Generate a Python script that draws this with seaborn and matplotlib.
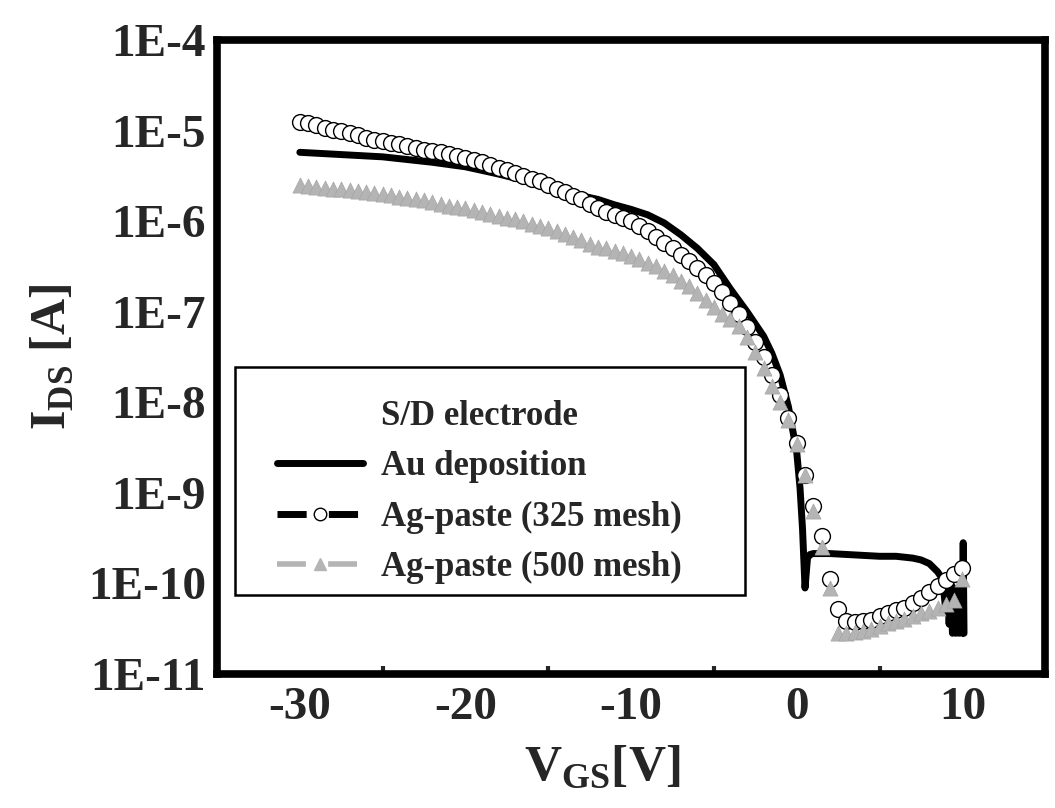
import numpy as np
import matplotlib
matplotlib.use("Agg")
import matplotlib.pyplot as plt
import seaborn as sns
from matplotlib.lines import Line2D
from matplotlib.patches import Rectangle
from matplotlib.ticker import FixedLocator, LogLocator, NullFormatter

# ============================================
# Data (log10 of I_DS)
# ============================================

# Au deposition (solid black line)
au_vgs = [-30, -28, -26, -25, -24, -22, -20, -18, -16, -15, -14, -13, -12, -11,
          -10, -9, -8, -7, -6, -5, -4, -3, -2, -1.5, -1, -0.5, 0, 0.2, 0.35,
          0.5, 0.65, 0.8, 1, 2, 3, 4, 5, 6, 7, 7.5, 8, 8.5, 8.8, 9.0, 9.1,
          9.2, 9.3, 9.4, 9.5, 9.6, 9.7, 9.8, 9.9, 10.0, 10.05, 10.1]
au_log = [-5.24, -5.26, -5.28, -5.29, -5.31, -5.35, -5.40, -5.48, -5.57, -5.63,
          -5.67, -5.72, -5.76, -5.82, -5.87, -5.93, -6.02, -6.15, -6.30, -6.48,
          -6.75, -7.00, -7.27, -7.46, -7.70, -8.05, -8.55, -8.95, -9.40,
          -10.05, -9.72, -9.68, -9.67, -9.67, -9.68, -9.69, -9.70, -9.70, -9.72,
          -9.74, -9.78, -9.87, -9.95, -10.30, -9.95, -10.45, -10.00, -10.55,
          -10.05, -10.55, -10.10, -10.55, -10.00, -10.55, -9.55, -10.55]

# Ag-paste 325 mesh (open circles) and 500 mesh (grey triangles), 0.5 V steps
mesh_vgs = np.arange(-30, 10.5, 0.5)
ag325_log = [-4.90, -4.92, -4.94, -4.97, -4.99, -5.01, -5.03, -5.05, -5.08, -5.10,
             -5.12, -5.14, -5.15, -5.17, -5.19, -5.21, -5.23, -5.24, -5.26, -5.28,
             -5.30, -5.32, -5.35, -5.38, -5.41, -5.44, -5.47, -5.50, -5.53, -5.56,
             -5.60, -5.64, -5.68, -5.72, -5.76, -5.81, -5.86, -5.90, -5.93, -5.97,
             -6.00, -6.05, -6.11, -6.17, -6.24, -6.30, -6.37, -6.44, -6.52, -6.60,
             -6.68, -6.78, -6.90, -7.03, -7.17, -7.33, -7.50, -7.70, -7.92, -8.17,
             -8.45, -8.80, -9.15, -9.48, -9.95, -10.28, -10.42, -10.43, -10.42, -10.40,
             -10.36, -10.33, -10.29, -10.27, -10.22, -10.16, -10.09, -10.03, -9.96, -9.90,
             -9.83]
ag500_log = [-5.60, -5.61, -5.62, -5.63, -5.64, -5.65, -5.66, -5.67, -5.68, -5.69,
             -5.70, -5.71, -5.73, -5.74, -5.76, -5.77, -5.79, -5.81, -5.83, -5.84,
             -5.86, -5.88, -5.90, -5.92, -5.94, -5.96, -5.98, -6.00, -6.03, -6.05,
             -6.08, -6.11, -6.14, -6.18, -6.21, -6.25, -6.28, -6.30, -6.33, -6.35,
             -6.38, -6.42, -6.46, -6.50, -6.55, -6.60, -6.66, -6.72, -6.79, -6.87,
             -6.95, -7.02, -7.08, -7.16, -7.28, -7.44, -7.62, -7.82, -8.00, -8.20,
             -8.46, -8.80, -9.20, -9.60, -10.05, -10.55, -10.55, -10.54, -10.52, -10.50,
             -10.47, -10.44, -10.42, -10.39, -10.36, -10.33, -10.30, -10.27, -10.23, -10.18,
             -9.95]

series_labels = ["Au deposition", "Ag-paste (325 mesh)", "Ag-paste (500 mesh)"]
legend_title = "S/D electrode"

x_major = [-30, -20, -10, 0, 10]
x_minor = [-25, -15, -5, 5]
y_exponents = [-11, -10, -9, -8, -7, -6, -5, -4]
y_tick_labels = ["1E-11", "1E-10", "1E-9", "1E-8", "1E-7", "1E-6", "1E-5", "1E-4"]

# ============================================
# Style
# ============================================

sns.set_style("white")
plt.rcParams["font.family"] = ["Liberation Serif", "DejaVu Serif"]
plt.rcParams["font.weight"] = "bold"
plt.rcParams["mathtext.fontset"] = "custom"
plt.rcParams["mathtext.rm"] = "Liberation Serif"
plt.rcParams["mathtext.bf"] = "Liberation Serif:bold"

fig = plt.figure(figsize=(10.55, 8.08), dpi=100)
ax = fig.add_axes([0.2057, 0.1658, 0.785, 0.7847])

grey = "#b4b4b4"

# ============================================
# Plot
# ============================================

sns.lineplot(x=au_vgs, y=10.0 ** np.array(au_log), color="black", lw=5,
             estimator=None, sort=False, ax=ax, zorder=2)
sns.scatterplot(x=mesh_vgs, y=10.0 ** np.array(ag325_log), marker="o", s=130,
                facecolor="white", edgecolor="black", linewidth=1.0, ax=ax, zorder=3)
sns.scatterplot(x=mesh_vgs, y=10.0 ** np.array(ag500_log), marker="^", s=120,
                color=grey, edgecolor="#a0a0a0", linewidth=0.4, ax=ax, zorder=4)

ax.set_yscale("log")
ax.set_xlim(-35, 15)
ax.set_ylim(1e-11, 1e-4)

ax.xaxis.set_major_locator(FixedLocator(x_major))
ax.xaxis.set_minor_locator(FixedLocator(x_minor))
ax.set_xticklabels([str(v) for v in x_major])
ax.yaxis.set_major_locator(FixedLocator([10.0 ** e for e in y_exponents]))
ax.set_yticklabels(y_tick_labels)
ax.yaxis.set_minor_locator(LogLocator(base=10, subs=np.arange(2, 10)))
ax.yaxis.set_minor_formatter(NullFormatter())

ax.tick_params(axis="both", which="major", direction="in", labelsize=34,
               top=False, right=False)
ax.tick_params(axis="x", which="major", length=11, width=3.5, pad=9)
ax.tick_params(axis="x", which="minor", direction="in", length=6, width=3,
               top=False, bottom=True)
ax.tick_params(axis="y", which="major", length=7, width=3, pad=8)
ax.tick_params(axis="y", which="minor", direction="in", length=5, width=2.5,
               right=False)
for lab in ax.get_xticklabels() + ax.get_yticklabels():
    lab.set_fontweight("bold")

for side in ["left", "right", "top", "bottom"]:
    ax.spines[side].set_visible(True)
    ax.spines[side].set_linewidth(5.5)
    ax.spines[side].set_color("black")

ax.set_xlabel(r"$\mathbf{V}_{\mathbf{GS}}$[V]", fontsize=37, fontweight="bold")
ax.set_ylabel(r"$\mathbf{I}_{\mathbf{DS}}$ [A]", fontsize=36, fontweight="bold")
ax.xaxis.set_label_coords(0.465, -0.11)
ax.yaxis.set_label_coords(-0.17, 0.5)

# Legend: entries without frame, frame drawn as a separate box
handles = [
    Line2D([], [], color="black", lw=5),
    Line2D([], [], color="black", lw=5, ls=(0, (4.2, 3.2)), marker="o",
           ms=9, mfc="white", mec="black", mew=1.0),
    Line2D([], [], color=grey, lw=4, ls=(0, (5.2, 4.0)), marker="^",
           ms=9, mfc=grey, mec=grey),
]
leg = ax.legend(handles, series_labels, title=legend_title, loc="upper left",
                bbox_to_anchor=(0.072, 0.432),
                prop={"size": 25, "weight": "bold"},
                title_fontproperties={"size": 25, "weight": "bold"},
                frameon=False, handlelength=2.5, handletextpad=0.5,
                labelspacing=0.5, borderpad=0, borderaxespad=0, numpoints=1)
leg.set_zorder(6)
ax.add_patch(Rectangle((0.0217, 0.1246), 0.616, 0.3596, transform=ax.transAxes,
                       facecolor="white", edgecolor="black", lw=1.8, zorder=5))

fig.savefig("out.png", dpi=100)
